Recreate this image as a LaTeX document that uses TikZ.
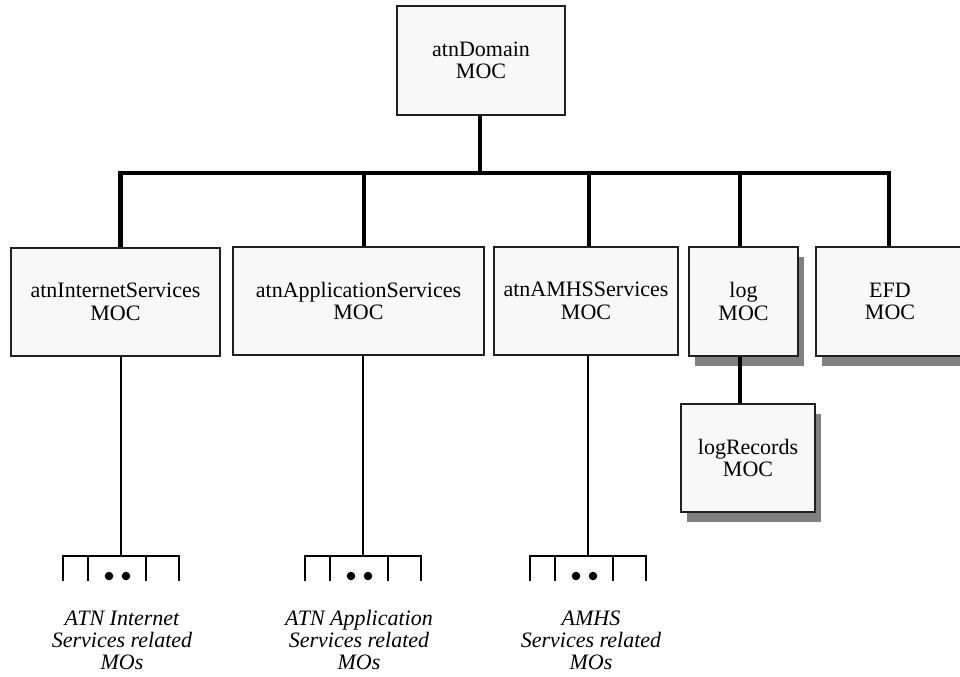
\documentclass[tikz,border=0pt]{standalone}
\usepackage{fontspec}
\setmainfont{Liberation Serif}
\usetikzlibrary{shadows}
\definecolor{boxfill}{HTML}{F8F8F8}
\definecolor{shadowgray}{HTML}{808080}
\definecolor{boxline}{HTML}{202020}
\tikzset{
  mocbox/.style 2 args={draw=boxline, fill=boxfill, line width=0.8pt,
    minimum width=#1*0.75pt, minimum height=#2*0.75pt, inner sep=0pt,
    align=center, font=\fontsize{16.5}{16.8}\selectfont},
  shadowed/.style={drop shadow={shadow xshift=4.5pt, shadow yshift=-7.8pt,
    fill=shadowgray, opacity=1}},
  thickline/.style={line width=3.2pt, line join=miter},
  thinline/.style={line width=0.8pt},
  molabel/.style={align=center, inner sep=0pt,
    font=\fontsize{16.5}{16.5}\selectfont\itshape},
  dot/.style={circle, fill=black, inner sep=0pt, minimum size=6.4pt}
}
\begin{document}
\begin{tikzpicture}[x=0.75pt, y=-0.75pt]
\useasboundingbox (0,0) rectangle (960,676);
\clip (0,0) rectangle (960,676);

% boxes
\node[mocbox={168}{109}] (dom) at (481,60.5) {atnDomain\\MOC};
\node[mocbox={209}{108}] (inet) at (115.5,302) {atnInternetServices\\MOC};
\node[mocbox={251}{108}] (app) at (358.5,301) {atnApplicationServices\\MOC};
\node[mocbox={184}{108}] (amhs) at (586,301) {atnAMHSServices\\MOC};
\node[mocbox={109}{109}, shadowed] (log) at (743.5,301.5) {log\\MOC};
\node[mocbox={148}{109}, shadowed] (efd) at (890,301.5) {EFD\\MOC};
\node[mocbox={134}{108}, shadowed] (logrec) at (748,458) {logRecords\\MOC};

% bus
\coordinate (busL) at (120.5,173);
\coordinate (busR) at (889,173);
\coordinate (busT) at (480,173);
\coordinate (b2) at (364,173);
\coordinate (b3) at (589,173);
\coordinate (b4) at (740,173);
\draw[thickline] (busL |- inet.north) -- (busL) -- (busR) -- (busR |- efd.north);
\draw[thickline] (dom.south -| busT) -- (busT);
\draw[thickline] (b2) -- (b2 |- app.north);
\draw[thickline] (b3) -- (b3 |- amhs.north);
\draw[thickline] (b4) -- (b4 |- log.north);
\draw[thickline] (log.south -| b4) -- (b4 |- logrec.north);

% forks
\foreach \n/\c/\src in {f1/121/inet, f2/363/app, f3/588/amhs}{
  \coordinate (\n) at (\c,556);
  \draw[thinline] (\src.south -| \n) -- (\n);
  \draw[thinline] (\c-58,581) -- (\c-58,556) -- (\c+58,556) -- (\c+58,581);
  \draw[thinline] (\c-33,556) -- (\c-33,581);
  \draw[thinline] (\c+25,556) -- (\c+25,581);
  \node[dot] at (\c-12,576) {};
  \node[dot] at (\c+5,576) {};
}

% labels
\node[molabel] (l1) at (122,640) {ATN Internet\\Services related\\MOs};
\node[molabel] (l2) at (359,640) {ATN Application\\Services related\\MOs};
\node[molabel] (l3) at (591,640) {AMHS\\Services related\\MOs};
\end{tikzpicture}
\end{document}
